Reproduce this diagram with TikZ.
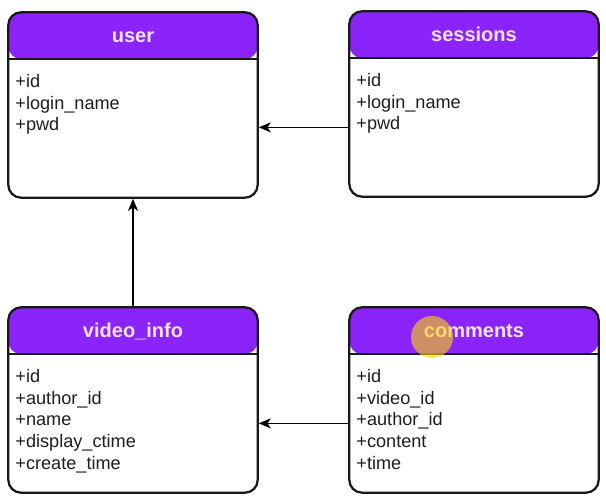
\documentclass[tikz,border=0pt]{standalone}
\usepackage{fontspec}
\setmainfont{Liberation Sans}
\usetikzlibrary{arrows.meta,positioning,calc}
\definecolor{headpurple}{RGB}{139,36,250}
\definecolor{headtext}{RGB}{248,226,255}
\definecolor{fieldtext}{RGB}{30,30,30}
\tikzset{
  entity/.style={draw=black!90, line width=1.7pt, rounded corners=9.5pt, fill=white,
    minimum width=187pt, minimum height=139pt, inner sep=0pt,
    path picture={
      \fill[headpurple] (path picture bounding box.north west) rectangle ([yshift=-35pt]path picture bounding box.north east);
      \draw[line width=1.4pt, black!90] ([yshift=-35pt]path picture bounding box.north west) -- ([yshift=-35pt]path picture bounding box.north east);
    }},
  title/.style={anchor=base, text=headtext, font=\bfseries\fontsize{15}{17}\selectfont, inner sep=0pt},
  fields/.style={anchor=north west, align=left, text=fieldtext, font=\fontsize{13.6}{16.3}\selectfont, inner sep=0pt},
  link/.style={line width=0.8pt, -{Stealth[length=9pt, width=7.5pt, inset=2.5pt]}}
}
% entity box: name, centre, title, fields
\def\entity#1(#2)#3#4{
  \node[entity] (#1) at (#2) {};
  \node[title] (#1-title) at ([yshift=-23.5pt]#1.north) {#3};
  \node[fields] (#1-fields) at ([xshift=6pt, yshift=-47pt]#1.north west) {#4};
  \coordinate (#1-body) at ($(#1.south)!0.5!([yshift=-35pt]#1.north)$);
}
\begin{document}
\begin{tikzpicture}[x=0.75pt, y=-0.75pt]
  %%%%% START %%%%%
  \useasboundingbox (0,0) rectangle (606,503);

  \entity user(133,105){user}{+id\\+login\_name\\+pwd}
  \entity sessions(474,104){sessions}{+id\\+login\_name\\+pwd}
  \entity videoinfo(133,400){video\_info}{+id\\+author\_id\\+name\\+display\_ctime\\+create\_time}
  \entity comments(474,400){comments}{+id\\+video\_id\\+author\_id\\+content\\+time}

  \draw[link] (sessions-body -| sessions.west) -- (sessions-body -| user.east);
  \draw[link] (videoinfo.north) -- (user.south);
  \draw[link] (comments-body -| comments.west) -- (comments-body -| videoinfo.east);

  % cursor highlight
  \fill[yellow!75!orange, opacity=0.6] (432,337) circle (21);
  %%%%% END %%%%%
\end{tikzpicture}
\end{document}
